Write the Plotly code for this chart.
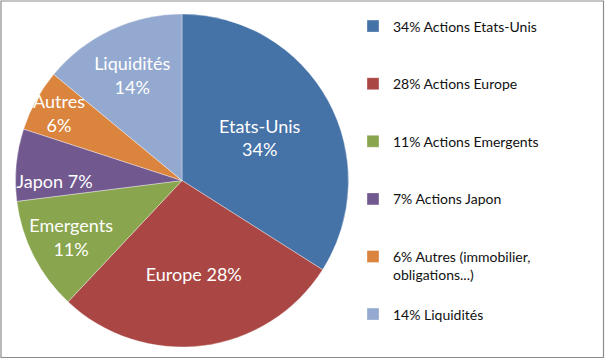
import plotly.graph_objects as go

# --- data ---
slice_names = ["Etats-Unis", "Europe", "Emergents", "Japon", "Autres", "Liquidités"]
shares = [34, 28, 11, 7, 6, 14]
slice_text = ["Etats-Unis<br>34%", "Europe 28%", "Emergents<br>11%",
              "Japon 7%", "Autres<br>6%", "Liquidités<br>14%"]
legend_labels = ["34% Actions Etats-Unis", "28% Actions Europe", "11% Actions Emergents",
                 "7% Actions Japon", "6% Autres (immobilier,<br>obligations...)", "14% Liquidités"]
colors = ["#4572A7", "#AA4643", "#89A54E", "#71588F", "#DB843D", "#93A9CF"]

W, H = 605, 359
FONT = "Lato, 'Open Sans', sans-serif"

# pad each legend entry (except the last) to three lines so entries are spaced like the original
padded = [lab + ("<br>\u00a0" * (2 - lab.count("<br>")) if i < len(legend_labels) - 1 else "")
          for i, lab in enumerate(legend_labels)]

cx, cy, r = 182, 180.5, 166.5
fig = go.Figure(go.Pie(
    labels=padded,
    values=shares,
    text=slice_text,
    textinfo="text",
    hoverinfo="label+percent",
    sort=False,
    direction="clockwise",
    rotation=0,
    marker=dict(colors=colors, line=dict(color="rgba(255,255,255,0.6)", width=0.6)),
    textposition="inside",
    insidetextorientation="horizontal",
    textfont=dict(family=FONT, size=18, color="white"),
    domain=dict(x=[(cx - r) / W, (cx + r) / W], y=[(H - cy - r) / H, (H - cy + r) / H]),
))

fig.update_layout(
    width=W, height=H,
    margin=dict(l=0, r=0, t=0, b=0),
    paper_bgcolor="white",
    uniformtext=dict(minsize=18, mode="show"),
    showlegend=True,
    legend=dict(
        x=353 / W, xanchor="left",
        y=1 - 10.5 / H, yanchor="top",
        valign="top",
        font=dict(family=FONT, size=14, color="#111111"),
        bgcolor="rgba(0,0,0,0)",
        traceorder="normal",
    ),
    shapes=[dict(type="rect", xref="paper", yref="paper",
                 x0=1 / W, x1=(W - 1.5) / W, y0=1.5 / H, y1=(H - 1) / H,
                 line=dict(color="#8c8c8c", width=1.2), fillcolor="rgba(0,0,0,0)")],
)

fig.write_html("out.html", config={"displayModeBar": False},
               post_script="document.body.style.margin='0';")
